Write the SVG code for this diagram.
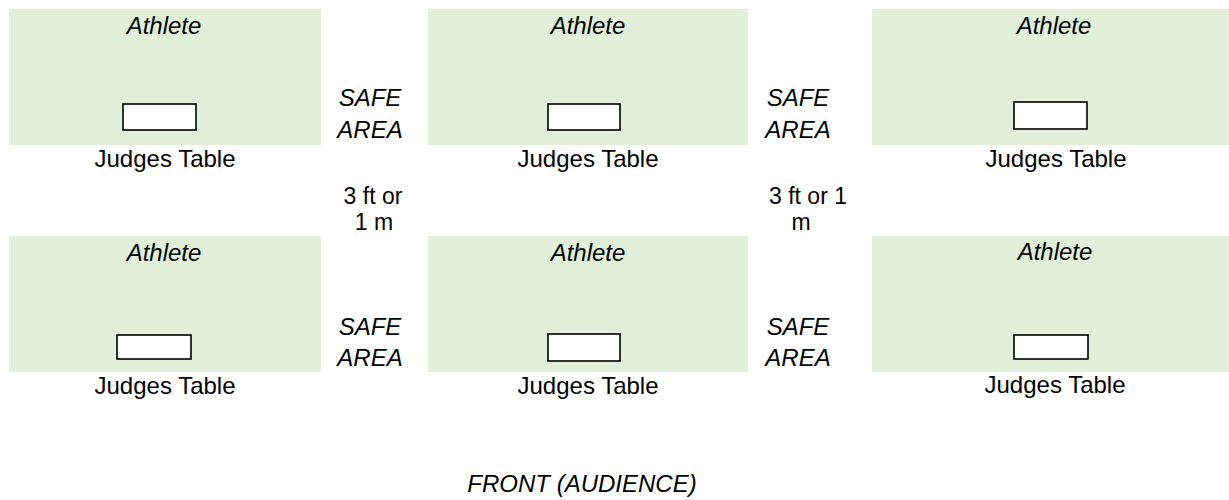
<svg xmlns="http://www.w3.org/2000/svg" width="1229" height="500" viewBox="0 0 1229 500">
<style>
.area{fill:#E2EFD9;stroke:none}
.tbl{fill:#FFFFFF;stroke:#000000;stroke-width:1.6}
text{font-family:"Liberation Sans",Arial,sans-serif;font-size:24px;fill:#000000;text-anchor:middle}
.it{font-style:italic}
.gap{font-size:23px}
</style>
<rect width="1229" height="500" fill="#FFFFFF"/>
<g id="station-1">
<rect class="area" x="9" y="9" width="312" height="136"/>
<text class="it" x="164" y="34">Athlete</text>
<rect class="tbl" x="123" y="104" width="73" height="26"/>
<text x="165" y="167">Judges Table</text>
</g>
<g id="station-2">
<rect class="area" x="428" y="9" width="320" height="136"/>
<text class="it" x="588" y="34">Athlete</text>
<rect class="tbl" x="548" y="104" width="72" height="26"/>
<text x="588" y="167">Judges Table</text>
</g>
<g id="station-3">
<rect class="area" x="872" y="9" width="360" height="136"/>
<text class="it" x="1054" y="34">Athlete</text>
<rect class="tbl" x="1014" y="102" width="73" height="27"/>
<text x="1056" y="167">Judges Table</text>
</g>
<g id="station-4">
<rect class="area" x="9" y="236" width="312" height="136"/>
<text class="it" x="164" y="261">Athlete</text>
<rect class="tbl" x="117" y="335" width="74" height="24"/>
<text x="165" y="394">Judges Table</text>
</g>
<g id="station-5">
<rect class="area" x="428" y="236" width="320" height="136"/>
<text class="it" x="588" y="261">Athlete</text>
<rect class="tbl" x="548" y="334" width="72" height="27"/>
<text x="588" y="394">Judges Table</text>
</g>
<g id="station-6">
<rect class="area" x="872" y="236" width="360" height="136"/>
<text class="it" x="1055" y="260">Athlete</text>
<rect class="tbl" x="1014" y="335" width="74" height="24"/>
<text x="1055" y="393">Judges Table</text>
</g>
<g id="safe-area-1">
<text class="it" x="370" y="106">SAFE</text>
<text class="it" x="370" y="138">AREA</text>
</g>
<g id="safe-area-2">
<text class="it" x="798" y="106">SAFE</text>
<text class="it" x="798" y="138">AREA</text>
</g>
<g id="safe-area-3">
<text class="it" x="370" y="335">SAFE</text>
<text class="it" x="370" y="366">AREA</text>
</g>
<g id="safe-area-4">
<text class="it" x="798" y="335">SAFE</text>
<text class="it" x="798" y="366">AREA</text>
</g>
<g id="gap-1">
<text class="gap" x="373" y="204">3 ft or</text>
<text class="gap" x="374" y="230">1 m</text>
</g>
<g id="gap-2">
<text class="gap" x="808" y="204">3 ft or 1</text>
<text class="gap" x="801" y="230">m</text>
</g>
<g id="front">
<text class="it" x="582" y="492">FRONT (AUDIENCE)</text>
</g>
</svg>
